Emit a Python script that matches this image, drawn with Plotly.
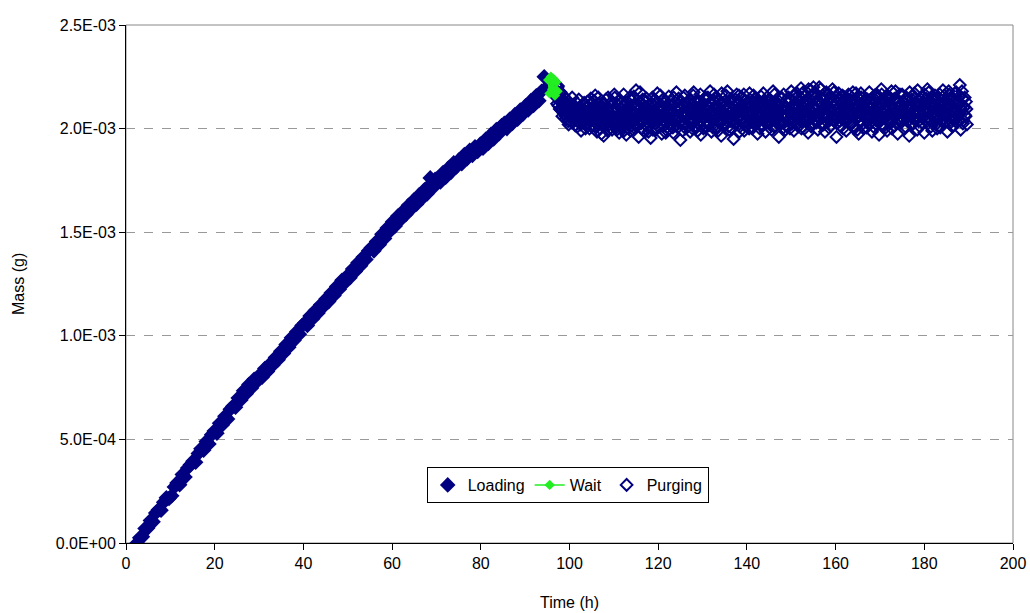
import plotly.graph_objects as go

# ---------------- data (time in h, mass in micrograms) ----------------
loading_time_h = [
    2.5, 3.1, 3.7, 4.3, 4.9,
    5.5, 6.1, 6.7, 7.3, 7.9, 8.5, 9.1, 9.7,
    10.3, 10.9, 11.5, 12.1, 12.7, 13.3, 13.9, 14.5,
    15.1, 15.7, 16.3, 16.9, 17.5, 18.1, 18.7, 19.3, 19.9,
    20.5, 21.1, 21.7, 22.3, 22.9, 23.5, 24.1, 24.7,
    25.3, 25.9, 26.5, 27.1, 27.7, 28.3, 28.9, 29.5,
    30.1, 30.7, 31.3, 31.9, 32.5, 33.1, 33.7, 34.3, 34.9,
    35.5, 36.1, 36.7, 37.3, 37.9, 38.5, 39.1, 39.7,
    40.3, 40.9, 41.5, 42.1, 42.7, 43.3, 43.9, 44.5,
    45.1, 45.7, 46.3, 46.9, 47.5, 48.1, 48.7, 49.3, 49.9,
    50.5, 51.1, 51.7, 52.3, 52.9, 53.5, 54.1, 54.7,
    55.3, 55.9, 56.5, 57.1, 57.7, 58.3, 58.9, 59.5,
    60.1, 60.7, 61.3, 61.9, 62.5, 63.1, 63.7, 64.3, 64.9,
    65.5, 66.1, 66.7, 67.3, 67.9, 68.5, 68.6, 69.1, 69.7,
    70.3, 70.9, 71.5, 72.1, 72.7, 73.3, 73.9, 74.5,
    75.1, 75.7, 76.3, 76.9, 77.5, 78.1, 78.7, 79.3, 79.9,
    80.5, 81.1, 81.7, 82.3, 82.9, 83.5, 84.1, 84.7,
    85.3, 85.9, 86.5, 87.1, 87.7, 88.3, 88.9, 89.5,
    90.1, 90.7, 91.3, 91.9, 92.5, 93.1, 93.7, 94.3, 94.9,
]
loading_mass_ug = [
    0, 25, 30, 70, 72,
    108, 102, 145, 160, 158, 197, 218, 215,
    228, 270, 290, 281, 330, 318, 362, 378,
    395, 390, 432, 455, 448, 490, 478, 522, 540,
    530, 578, 570, 612, 598, 645, 660, 655,
    700, 690, 735, 720, 765, 748, 790, 778,
    810, 800, 842, 828, 865, 858, 895, 885, 925,
    915, 958, 945, 990, 978, 1020, 1008, 1050,
    1062, 1050, 1095, 1082, 1122, 1110, 1150, 1140,
    1178, 1165, 1208, 1195, 1238, 1225, 1268, 1255, 1290,
    1280, 1322, 1310, 1352, 1338, 1380, 1368, 1410,
    1425, 1410, 1455, 1440, 1490, 1470, 1520, 1505,
    1550, 1530, 1578, 1560, 1602, 1585, 1630, 1612, 1655,
    1635, 1680, 1662, 1705, 1685, 1728, 1762, 1712, 1755,
    1760, 1742, 1788, 1765, 1810, 1790, 1835, 1815,
    1850, 1830, 1875, 1855, 1895, 1870, 1912, 1890, 1925,
    1905, 1948, 1928, 1972, 1950, 1995, 1975, 2015,
    2025, 2000, 2045, 2025, 2068, 2045, 2090, 2070,
    2110, 2090, 2135, 2112, 2158, 2135, 2180, 2250, 2200,
]

wait_time_h = [95.2, 95.5, 95.8, 96.1, 96.4, 96.7, 97.0, 97.3]
wait_mass_ug = [2235, 2170, 2250, 2190, 2240, 2160, 2225, 2180]

# purging readings, part A (even tenths of an hour)
purging_time_h_a = [
    97.0, 97.2, 97.4, 97.6, 97.8, 98.0, 98.2, 98.4, 98.6, 98.8,
    99.0, 99.2, 99.4, 99.6, 99.8, 100.0, 100.2, 100.4, 100.6, 100.8,
    101.0, 101.2, 101.4, 101.6, 101.8, 102.0, 102.2, 102.4, 102.6, 102.8,
    103.0, 103.2, 103.4, 103.6, 103.8, 104.0, 104.2, 104.4, 104.6, 104.8,
    105.0, 105.2, 105.4, 105.6, 105.8, 106.0, 106.2, 106.4, 106.6, 106.8,
    107.0, 107.2, 107.4, 107.6, 107.8, 108.0, 108.2, 108.4, 108.6, 108.8,
    109.0, 109.2, 109.4, 109.6, 109.8, 110.0, 110.2, 110.4, 110.6, 110.8,
    111.0, 111.2, 111.4, 111.6, 111.8, 112.0, 112.2, 112.4, 112.6, 112.8,
    113.0, 113.2, 113.4, 113.6, 113.8, 114.0, 114.2, 114.4, 114.6, 114.8,
    115.0, 115.2, 115.4, 115.6, 115.8, 116.0, 116.2, 116.4, 116.6, 116.8,
    117.0, 117.2, 117.4, 117.6, 117.8, 118.0, 118.2, 118.4, 118.6, 118.8,
    119.0, 119.2, 119.4, 119.6, 119.8, 120.0, 120.2, 120.4, 120.6, 120.8,
    121.0, 121.2, 121.4, 121.6, 121.8, 122.0, 122.2, 122.4, 122.6, 122.8,
    123.0, 123.2, 123.4, 123.6, 123.8, 124.0, 124.2, 124.4, 124.6, 124.8,
    125.0, 125.2, 125.4, 125.6, 125.8, 126.0, 126.2, 126.4, 126.6, 126.8,
    127.0, 127.2, 127.4, 127.6, 127.8, 128.0, 128.2, 128.4, 128.6, 128.8,
    129.0, 129.2, 129.4, 129.6, 129.8, 130.0, 130.2, 130.4, 130.6, 130.8,
    131.0, 131.2, 131.4, 131.6, 131.8, 132.0, 132.2, 132.4, 132.6, 132.8,
    133.0, 133.2, 133.4, 133.6, 133.8, 134.0, 134.2, 134.4, 134.6, 134.8,
    135.0, 135.2, 135.4, 135.6, 135.8, 136.0, 136.2, 136.4, 136.6, 136.8,
    137.0, 137.2, 137.4, 137.6, 137.8, 138.0, 138.2, 138.4, 138.6, 138.8,
    139.0, 139.2, 139.4, 139.6, 139.8, 140.0, 140.2, 140.4, 140.6, 140.8,
    141.0, 141.2, 141.4, 141.6, 141.8, 142.0, 142.2, 142.4, 142.6, 142.8,
    143.0, 143.2, 143.4, 143.6, 143.8, 144.0, 144.2, 144.4, 144.6, 144.8,
    145.0, 145.2, 145.4, 145.6, 145.8, 146.0, 146.2, 146.4, 146.6, 146.8,
    147.0, 147.2, 147.4, 147.6, 147.8, 148.0, 148.2, 148.4, 148.6, 148.8,
    149.0, 149.2, 149.4, 149.6, 149.8, 150.0, 150.2, 150.4, 150.6, 150.8,
    151.0, 151.2, 151.4, 151.6, 151.8, 152.0, 152.2, 152.4, 152.6, 152.8,
    153.0, 153.2, 153.4, 153.6, 153.8, 154.0, 154.2, 154.4, 154.6, 154.8,
    155.0, 155.2, 155.4, 155.6, 155.8, 156.0, 156.2, 156.4, 156.6, 156.8,
    157.0, 157.2, 157.4, 157.6, 157.8, 158.0, 158.2, 158.4, 158.6, 158.8,
    159.0, 159.2, 159.4, 159.6, 159.8, 160.0, 160.2, 160.4, 160.6, 160.8,
    161.0, 161.2, 161.4, 161.6, 161.8, 162.0, 162.2, 162.4, 162.6, 162.8,
    163.0, 163.2, 163.4, 163.6, 163.8, 164.0, 164.2, 164.4, 164.6, 164.8,
    165.0, 165.2, 165.4, 165.6, 165.8, 166.0, 166.2, 166.4, 166.6, 166.8,
    167.0, 167.2, 167.4, 167.6, 167.8, 168.0, 168.2, 168.4, 168.6, 168.8,
    169.0, 169.2, 169.4, 169.6, 169.8, 170.0, 170.2, 170.4, 170.6, 170.8,
    171.0, 171.2, 171.4, 171.6, 171.8, 172.0, 172.2, 172.4, 172.6, 172.8,
    173.0, 173.2, 173.4, 173.6, 173.8, 174.0, 174.2, 174.4, 174.6, 174.8,
    175.0, 175.2, 175.4, 175.6, 175.8, 176.0, 176.2, 176.4, 176.6, 176.8,
    177.0, 177.2, 177.4, 177.6, 177.8, 178.0, 178.2, 178.4, 178.6, 178.8,
    179.0, 179.2, 179.4, 179.6, 179.8, 180.0, 180.2, 180.4, 180.6, 180.8,
    181.0, 181.2, 181.4, 181.6, 181.8, 182.0, 182.2, 182.4, 182.6, 182.8,
    183.0, 183.2, 183.4, 183.6, 183.8, 184.0, 184.2, 184.4, 184.6, 184.8,
    185.0, 185.2, 185.4, 185.6, 185.8, 186.0, 186.2, 186.4, 186.6, 186.8,
    187.0, 187.2, 187.4, 187.6, 187.8, 188.0, 188.2, 188.4, 188.6, 188.8,
    189.0, 189.2, 189.4, 189.6,
]
purging_mass_ug_a = [
    2185, 2120, 2205, 2150, 2095, 2175, 2130, 2060, 2160, 2085,
    2110, 2045, 2140, 2075, 2020, 2120, 2090, 2055, 2150, 2070,
    2035, 2095, 2060, 2125, 2010, 2080, 2050, 2105, 1990, 2070,
    2115, 2040, 2085, 2000, 2065, 2130, 2025, 2090, 2055, 2145,
    2010, 2070, 2105, 2035, 2160, 2050, 1985, 2090, 2045, 2120,
    2065, 1975, 2030, 2100, 2055, 2015, 2140, 2045, 1990, 2080,
    2035, 2110, 2060, 1995, 2085, 2025, 2150, 2050, 2005, 2095,
    2040, 1980, 2075, 2120, 2010, 2060, 2165, 2030, 2090, 1970,
    2055, 2105, 2020, 2080, 1990, 2135, 2045, 2070, 2005, 2110,
    2185, 2030, 2065, 1960, 2095, 2040, 2125, 2000, 2075, 2050,
    2105, 2020, 2145, 2060, 1985, 2090, 2035, 2120, 2055, 1995,
    2080, 2140, 2025, 2070, 2170, 2010, 2095, 2045, 2115, 1975,
    2060, 2100, 2030, 2135, 2050, 1990, 2085, 2155, 2020, 2075,
    2040, 2110, 1980, 2065, 2125, 2035, 2090, 2005, 2145, 2055,
    1945, 2070, 2115, 2025, 2085, 2160, 2000, 2060, 2130, 2040,
    2095, 1985, 2050, 2120, 2030, 2175, 2065, 2010, 2100, 2045,
    2135, 2020, 2080, 1970, 2110, 2055, 2000, 2145, 2070, 2035,
    2090, 2150, 2015, 2065, 2125, 1985, 2075, 2040, 2165, 2050,
    2005, 2100, 2060, 2140, 2030, 2085, 1965, 2115, 2045, 2070,
    2130, 2020, 2095, 2180, 2050, 1995, 2080, 2035, 2120, 2060,
    1950, 2075, 2140, 2025, 2090, 2055, 2160, 2010, 2065, 2115,
    2040, 2100, 1990, 2135, 2070, 2015, 2110, 2055, 2170, 2030,
    2085, 2000, 2125, 2060, 2145, 2035, 2090, 1975, 2075, 2120,
    2050, 2155, 2020, 2095, 2040, 2130, 1985, 2080, 2110, 2060,
    2025, 2140, 2070, 1995, 2105, 2050, 2165, 2015, 2090, 2045,
    2120, 1960, 2080, 2035, 2150, 2065, 2005, 2100, 2055, 2135,
    2010, 2090, 2150, 2040, 2075, 2180, 2025, 2110, 1990, 2065,
    2145, 2050, 2095, 2010, 2130, 2070, 2195, 2035, 2085, 2120,
    2000, 2160, 2065, 2115, 1980, 2090, 2045, 2185, 2075, 2030,
    2200, 2105, 2040, 2150, 2060, 1995, 2125, 2080, 2190, 2020,
    2095, 2055, 2140, 1985, 2110, 2070, 2030, 2165, 2045, 2100,
    2015, 2130, 2065, 2175, 2040, 2090, 1960, 2120, 2055, 2145,
    2080, 2010, 2125, 2060, 2155, 2035, 2095, 1990, 2140, 2070,
    2045, 2160, 2020, 2105, 2075, 2135, 2000, 2085, 2170, 2050,
    2115, 1975, 2090, 2040, 2150, 2065, 2025, 2130, 2060, 2095,
    2005, 2140, 2070, 2175, 2030, 2100, 1985, 2120, 2050, 2160,
    2085, 2020, 2145, 2065, 1970, 2110, 2045, 2165, 2075, 2010,
    2130, 2055, 2095, 1990, 2150, 2070, 2025, 2120, 2180, 2040,
    2100, 2015, 2145, 2060, 2085, 1975, 2135, 2050, 2110, 2030,
    2165, 2075, 2000, 2120, 2055, 2150, 2035, 2090, 1965, 2105,
    2060, 2140, 2025, 2085, 2170, 2045, 2115, 1995, 2075, 2130,
    2010, 2095, 2155, 2050, 2125, 1980, 2080, 2145, 2035, 2100,
    2175, 2040, 2110, 2065, 1990, 2135, 2055, 2160, 2020, 2090,
    2045, 2150, 2080, 2005, 2120, 2070, 2185, 2030, 2100, 2060,
    2135, 1985, 2095, 2165, 2040, 2110, 2060, 2140, 2015, 2085,
    2050, 2175, 2030, 2120, 2075, 2210, 1995, 2090, 2145, 2040,
    2105, 2065, 2130, 2020,
]

# purging readings, part B (odd tenths of an hour)
purging_time_h_b = [
    97.1, 97.3, 97.5, 97.7, 97.9, 98.1, 98.3, 98.5, 98.7, 98.9,
    99.1, 99.3, 99.5, 99.7, 99.9, 100.1, 100.3, 100.5, 100.7, 100.9,
    101.1, 101.3, 101.5, 101.7, 101.9, 102.1, 102.3, 102.5, 102.7, 102.9,
    103.1, 103.3, 103.5, 103.7, 103.9, 104.1, 104.3, 104.5, 104.7, 104.9,
    105.1, 105.3, 105.5, 105.7, 105.9, 106.1, 106.3, 106.5, 106.7, 106.9,
    107.1, 107.3, 107.5, 107.7, 107.9, 108.1, 108.3, 108.5, 108.7, 108.9,
    109.1, 109.3, 109.5, 109.7, 109.9, 110.1, 110.3, 110.5, 110.7, 110.9,
    111.1, 111.3, 111.5, 111.7, 111.9, 112.1, 112.3, 112.5, 112.7, 112.9,
    113.1, 113.3, 113.5, 113.7, 113.9, 114.1, 114.3, 114.5, 114.7, 114.9,
    115.1, 115.3, 115.5, 115.7, 115.9, 116.1, 116.3, 116.5, 116.7, 116.9,
    117.1, 117.3, 117.5, 117.7, 117.9, 118.1, 118.3, 118.5, 118.7, 118.9,
    119.1, 119.3, 119.5, 119.7, 119.9, 120.1, 120.3, 120.5, 120.7, 120.9,
    121.1, 121.3, 121.5, 121.7, 121.9, 122.1, 122.3, 122.5, 122.7, 122.9,
    123.1, 123.3, 123.5, 123.7, 123.9, 124.1, 124.3, 124.5, 124.7, 124.9,
    125.1, 125.3, 125.5, 125.7, 125.9, 126.1, 126.3, 126.5, 126.7, 126.9,
    127.1, 127.3, 127.5, 127.7, 127.9, 128.1, 128.3, 128.5, 128.7, 128.9,
    129.1, 129.3, 129.5, 129.7, 129.9, 130.1, 130.3, 130.5, 130.7, 130.9,
    131.1, 131.3, 131.5, 131.7, 131.9, 132.1, 132.3, 132.5, 132.7, 132.9,
    133.1, 133.3, 133.5, 133.7, 133.9, 134.1, 134.3, 134.5, 134.7, 134.9,
    135.1, 135.3, 135.5, 135.7, 135.9, 136.1, 136.3, 136.5, 136.7, 136.9,
    137.1, 137.3, 137.5, 137.7, 137.9, 138.1, 138.3, 138.5, 138.7, 138.9,
    139.1, 139.3, 139.5, 139.7, 139.9, 140.1, 140.3, 140.5, 140.7, 140.9,
    141.1, 141.3, 141.5, 141.7, 141.9, 142.1, 142.3, 142.5, 142.7, 142.9,
    143.1, 143.3, 143.5, 143.7, 143.9, 144.1, 144.3, 144.5, 144.7, 144.9,
    145.1, 145.3, 145.5, 145.7, 145.9, 146.1, 146.3, 146.5, 146.7, 146.9,
    147.1, 147.3, 147.5, 147.7, 147.9, 148.1, 148.3, 148.5, 148.7, 148.9,
    149.1, 149.3, 149.5, 149.7, 149.9, 150.1, 150.3, 150.5, 150.7, 150.9,
    151.1, 151.3, 151.5, 151.7, 151.9, 152.1, 152.3, 152.5, 152.7, 152.9,
    153.1, 153.3, 153.5, 153.7, 153.9, 154.1, 154.3, 154.5, 154.7, 154.9,
    155.1, 155.3, 155.5, 155.7, 155.9, 156.1, 156.3, 156.5, 156.7, 156.9,
    157.1, 157.3, 157.5, 157.7, 157.9, 158.1, 158.3, 158.5, 158.7, 158.9,
    159.1, 159.3, 159.5, 159.7, 159.9, 160.1, 160.3, 160.5, 160.7, 160.9,
    161.1, 161.3, 161.5, 161.7, 161.9, 162.1, 162.3, 162.5, 162.7, 162.9,
    163.1, 163.3, 163.5, 163.7, 163.9, 164.1, 164.3, 164.5, 164.7, 164.9,
    165.1, 165.3, 165.5, 165.7, 165.9, 166.1, 166.3, 166.5, 166.7, 166.9,
    167.1, 167.3, 167.5, 167.7, 167.9, 168.1, 168.3, 168.5, 168.7, 168.9,
    169.1, 169.3, 169.5, 169.7, 169.9, 170.1, 170.3, 170.5, 170.7, 170.9,
    171.1, 171.3, 171.5, 171.7, 171.9, 172.1, 172.3, 172.5, 172.7, 172.9,
    173.1, 173.3, 173.5, 173.7, 173.9, 174.1, 174.3, 174.5, 174.7, 174.9,
    175.1, 175.3, 175.5, 175.7, 175.9, 176.1, 176.3, 176.5, 176.7, 176.9,
    177.1, 177.3, 177.5, 177.7, 177.9, 178.1, 178.3, 178.5, 178.7, 178.9,
    179.1, 179.3, 179.5, 179.7, 179.9, 180.1, 180.3, 180.5, 180.7, 180.9,
    181.1, 181.3, 181.5, 181.7, 181.9, 182.1, 182.3, 182.5, 182.7, 182.9,
    183.1, 183.3, 183.5, 183.7, 183.9, 184.1, 184.3, 184.5, 184.7, 184.9,
    185.1, 185.3, 185.5, 185.7, 185.9, 186.1, 186.3, 186.5, 186.7, 186.9,
    187.1, 187.3, 187.5, 187.7, 187.9, 188.1, 188.3, 188.5, 188.7, 188.9,
    189.1, 189.3, 189.5,
]
purging_mass_ug_b = [
    2150, 2200, 2110, 2170, 2130, 2090, 2145, 2105, 2075, 2125,
    2060, 2100, 2085, 2035, 2110, 2065, 2095, 2030, 2080, 2115,
    2050, 2015, 2100, 2075, 2040, 2140, 2065, 2020, 2095, 2055,
    2080, 2125, 2020, 2060, 2105, 2045, 2080, 2000, 2115, 2070,
    2040, 2095, 2135, 2010, 2070, 2105, 2025, 2150, 2065, 2000,
    2100, 2040, 2085, 1965, 2120, 2070, 2030, 2090, 2150, 2020,
    2075, 2005, 2130, 2045, 2095, 2165, 2030, 2080, 1995, 2115,
    2060, 2140, 2020, 2095, 2045, 2110, 1990, 2075, 2125, 2035,
    2090, 2000, 2150, 2060, 2110, 2030, 2085, 2155, 2040, 2070,
    2010, 2120, 2055, 2095, 2175, 2025, 2070, 2140, 1990, 2100,
    2045, 2130, 2080, 2005, 2115, 2060, 1955, 2085, 2150, 2030,
    2110, 2050, 1995, 2130, 2040, 2100, 2065, 2160, 2025, 2085,
    2140, 2015, 2075, 1980, 2105, 2045, 2120, 2000, 2095, 2130,
    2080, 2005, 2150, 2045, 2095, 2175, 2060, 2115, 2030, 2090,
    2100, 2040, 1990, 2150, 2055, 2020, 2120, 2075, 2010, 2095,
    2030, 2140, 2075, 2000, 2160, 2085, 2040, 2130, 2055, 1990,
    2065, 2105, 2165, 2040, 2080, 2125, 2025, 2095, 2150, 2010,
    2115, 2030, 2100, 2180, 2045, 2090, 2005, 2135, 2070, 2110,
    2150, 2055, 1990, 2080, 2120, 2040, 2170, 2065, 2100, 2015,
    2070, 2160, 2040, 2105, 2010, 2130, 2055, 2145, 2000, 2090,
    2110, 2025, 2085, 2165, 2045, 2120, 1985, 2095, 2050, 2150,
    2080, 2165, 2035, 2090, 2015, 2125, 2060, 2000, 2140, 2075,
    2040, 2110, 2160, 2020, 2095, 2065, 2135, 2030, 2120, 2000,
    2105, 2010, 2075, 2170, 2055, 2095, 2030, 2150, 2065, 2125,
    2085, 2055, 2120, 2040, 2180, 2010, 2070, 2130, 2045, 2105,
    2070, 2110, 2020, 2145, 2090, 2030, 2165, 2060, 1995, 2100,
    2125, 2040, 2080, 2000, 2135, 2060, 2100, 2160, 2045, 2115,
    2070, 2170, 2025, 2110, 2055, 2150, 2000, 2125, 2175, 2060,
    2115, 2035, 2140, 2080, 2190, 2050, 2125, 2010, 2160, 2100,
    2060, 2175, 2090, 2030, 2140, 2110, 2200, 2045, 2120, 2085,
    2160, 2020, 2100, 2070, 2175, 2050, 2130, 2005, 2090, 2155,
    2080, 2190, 2040, 2115, 2060, 2150, 2025, 2100, 2170, 2035,
    2110, 2055, 2160, 2000, 2095, 2135, 2045, 2120, 2070, 2165,
    2090, 2025, 2130, 2065, 2175, 2015, 2115, 2050, 2105, 1995,
    2150, 2060, 2030, 2170, 2080, 2120, 2000, 2095, 2140, 2045,
    2075, 2115, 2020, 2100, 2055, 2145, 2070, 2010, 2090, 2125,
    2040, 2165, 2100, 2030, 2125, 2055, 2190, 2015, 2095, 2140,
    2070, 2005, 2115, 2160, 2035, 2100, 2140, 2060, 2000, 2090,
    2140, 2060, 2180, 2025, 2120, 2045, 2100, 2165, 2030, 2085,
    2050, 2130, 2095, 2010, 2145, 2070, 2110, 2040, 2175, 2065,
    2100, 2020, 2160, 2075, 2040, 2125, 2060, 2185, 2035, 2110,
    2145, 2060, 2030, 2110, 2080, 2165, 2045, 2100, 2190, 2055,
    2080, 2125, 2010, 2150, 2095, 2030, 2115, 2070, 2140, 2000,
    2100, 2015, 2165, 2055, 2135, 2040, 2090, 2160, 2070, 2120,
    2060, 2105, 2180, 2025, 2085, 2150, 2010, 2125, 2075, 2170,
    2095, 2030, 2135, 2065, 2155, 2040, 2110, 2180, 2025, 2100,
    2150, 2060, 2095,
]

y_tick_values_g = [0.0, 0.0005, 0.0010, 0.0015, 0.0020, 0.0025]
y_tick_labels = ["0.0E+00", "5.0E-04", "1.0E-03", "1.5E-03", "2.0E-03", "2.5E-03"]
x_tick_values = [0, 20, 40, 60, 80, 100, 120, 140, 160, 180, 200]

UG_TO_G = 1e-6

NAVY = "#000080"
GREEN = "#22ee22"
FONT = "Liberation Sans, Arial, sans-serif"

purging_time_h = purging_time_h_a + purging_time_h_b
purging_mass_ug = purging_mass_ug_a + purging_mass_ug_b

fig = go.Figure()
fig.add_trace(go.Scatter(
    x=loading_time_h, y=[m * UG_TO_G for m in loading_mass_ug],
    mode="markers", name="Loading", legendrank=1,
    marker=dict(symbol="diamond", color=NAVY, size=12, line=dict(width=0)),
))
fig.add_trace(go.Scatter(
    x=purging_time_h, y=[m * UG_TO_G for m in purging_mass_ug],
    mode="markers", name="Purging", legendrank=3,
    marker=dict(symbol="diamond-open", color=NAVY, size=9, line=dict(width=2.0, color=NAVY)),
))
fig.add_trace(go.Scatter(
    x=wait_time_h, y=[m * UG_TO_G for m in wait_mass_ug],
    mode="lines+markers", name="Wait", legendrank=2,
    line=dict(color=GREEN, width=1.5),
    marker=dict(symbol="diamond", color=GREEN, size=8),
))

# gray frame on top / right (Excel plot-area border)
fig.add_shape(type="rect", xref="paper", yref="paper", x0=0, y0=0, x1=1, y1=1,
              line=dict(color="#888888", width=1), layer="below")

# axis titles
fig.add_annotation(text="Mass (g)", xref="paper", yref="paper", x=0, y=0.5,
                   xanchor="center", yanchor="middle", xshift=-108, textangle=-90,
                   showarrow=False, font=dict(family=FONT, size=16))
fig.add_annotation(text="Time (h)", xref="paper", yref="paper", x=0.5, y=0,
                   xanchor="center", yanchor="middle", yshift=-59,
                   showarrow=False, font=dict(family=FONT, size=16))

fig.update_layout(
    width=1030, height=613,
    margin=dict(l=126, r=17, t=25, b=70, autoexpand=False),
    paper_bgcolor="white", plot_bgcolor="white",
    font=dict(family=FONT, size=16, color="black"),
    showlegend=True,
    legend=dict(
        orientation="h", x=0.498, y=0.112, xanchor="center", yanchor="middle",
        bordercolor="black", borderwidth=1, bgcolor="white",
        font=dict(family=FONT, size=16), itemwidth=30,
        traceorder="normal",
    ),
    xaxis=dict(
        range=[0, 200], tickvals=x_tick_values,
        showgrid=False, zeroline=False, automargin=False,
        ticklabeloverflow="allow",
        showline=True, linecolor="black", linewidth=1,
        ticks="outside", ticklen=6, tickcolor="black",
    ),
    yaxis=dict(
        range=[0, 0.0025], tickvals=y_tick_values_g, ticktext=y_tick_labels,
        showgrid=True, gridcolor="#999999", griddash="dash", gridwidth=1,
        zeroline=False, automargin=False,
        showline=True, linecolor="black", linewidth=1,
        ticks="outside", ticklen=6, tickcolor="black",
    ),
)

# remove the default page margin so the 1030x613 figure fills the window exactly
fig.write_html("out.html", config={"displayModeBar": False},
               post_script="document.body.style.margin='0';")
